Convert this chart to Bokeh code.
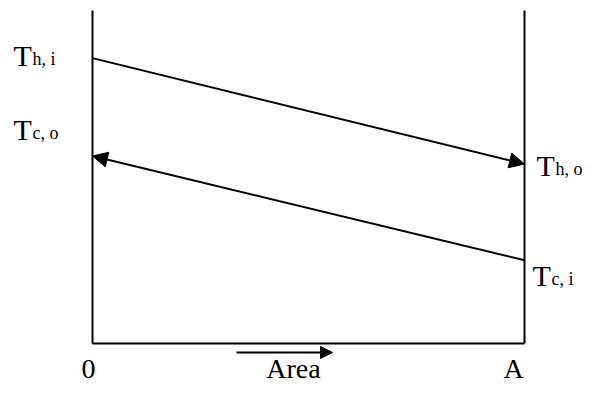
from bokeh.plotting import figure
from bokeh.models import Range1d, Arrow, NormalHead
from bokeh.core.properties import value
from bokeh.embed import file_html
from bokeh.resources import INLINE

# Data (area position 0 -> A, temperatures in arbitrary units)
area_pos = [0.0, 1.0]
area_labels = ["0", "A"]
hot_temps = [85.7, 53.9]      # T_h,i at 0 -> T_h,o at A
cold_temps = [56.3, 25.0]     # T_c,o at 0 <- T_c,i at A
wall_temps = [0.0, 100.0]     # extent of the vertical walls
hot_labels = ["h, i", "h, o"]
cold_labels = ["c, o", "c, i"]
axis_title = "Area"

W, H = 582, 386
PX_PER_AREA = 432.0
PX_PER_T = 3.33
LEFT_WALL_PX = 92   # pixel of area 0
BASE_PX = 343       # pixel (from top) of T=0

x0 = -LEFT_WALL_PX / PX_PER_AREA
x1 = (W - LEFT_WALL_PX) / PX_PER_AREA
y1 = BASE_PX / PX_PER_T
y0 = -(H - BASE_PX) / PX_PER_T

p = figure(width=W, height=H, output_backend="svg", toolbar_location=None,
           x_range=Range1d(x0, x1), y_range=Range1d(y0, y1),
           min_border=0, min_border_left=0, min_border_right=0,
           min_border_top=0, min_border_bottom=0)
p.axis.visible = False
p.grid.visible = False
p.outline_line_color = None
p.background_fill_color = "white"
p.border_fill_color = "white"

LW = 2
# walls and base
for xp in area_pos:
    p.line([xp, xp], wall_temps, line_color="black", line_width=LW)
p.line(area_pos, [wall_temps[0], wall_temps[0]], line_color="black", line_width=LW)

# hot stream: 0 -> A
p.add_layout(Arrow(end=NormalHead(size=15, fill_color="black", line_color="black"),
                   x_start=area_pos[0], y_start=hot_temps[0],
                   x_end=area_pos[1], y_end=hot_temps[1],
                   line_color="black", line_width=LW))
# cold stream: A -> 0
p.add_layout(Arrow(end=NormalHead(size=15, fill_color="black", line_color="black"),
                   x_start=area_pos[1], y_start=cold_temps[1],
                   x_end=area_pos[0], y_end=cold_temps[0],
                   line_color="black", line_width=LW))

FONT = value("Liberation Serif")
BIG = "30px"
SMALL = "18px"

def label(x, y, sub, dx, dy):
    p.text(x=[x], y=[y], text=["T"], text_font=FONT, text_font_size=BIG,
           text_baseline="alphabetic", text_align="left",
           x_offset=dx, y_offset=dy, text_color="black")
    p.text(x=[x], y=[y], text=[sub], text_font=FONT, text_font_size=SMALL,
           text_baseline="alphabetic", text_align="left",
           x_offset=dx + 19, y_offset=dy + 4, text_color="black")

label(area_pos[0], hot_temps[0], hot_labels[0], -79, -3)
label(area_pos[0], cold_temps[0], cold_labels[0], -79, -27)
label(area_pos[1], hot_temps[1], hot_labels[1], 12, 1)
label(area_pos[1], cold_temps[1], cold_labels[1], 8, 15)

# bottom labels
BOTTOM = "28px"
p.text(x=area_pos, y=[wall_temps[0]] * 2, text=area_labels, text_font=FONT,
       text_font_size=BOTTOM, text_align="center", text_baseline="alphabetic",
       x_offset=[-4, -11], y_offset=25, text_color="black")
mid = sum(area_pos) / 2
p.text(x=[mid], y=[wall_temps[0]], text=[axis_title], text_font=FONT,
       text_font_size=BOTTOM, text_align="center", text_baseline="alphabetic",
       x_offset=-15, y_offset=25, text_color="black")
# area arrow
ax0 = mid - 72 / PX_PER_AREA
ax1 = mid + 24 / PX_PER_AREA
ay = wall_temps[0] - 9 / PX_PER_T
p.add_layout(Arrow(end=NormalHead(size=12, fill_color="black", line_color="black"),
                   x_start=ax0, y_start=ay, x_end=ax1, y_end=ay,
                   line_color="black", line_width=LW))

open("out.html", "w").write(file_html(p, INLINE))
